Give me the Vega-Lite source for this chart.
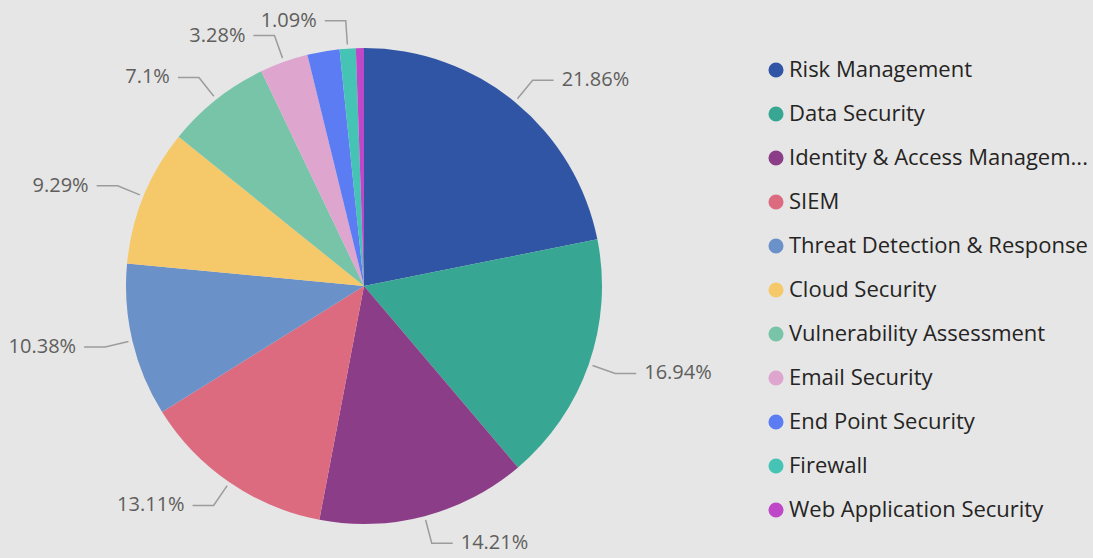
{
  "$schema": "https://vega.github.io/schema/vega-lite/v6.json",
  "width": 600,
  "height": 572,
  "autosize": {"type": "none"},
  "padding": {"left": 64, "top": 0, "right": 429, "bottom": 0},
  "background": "#E6E6E6",
  "config": {"view": {"stroke": null}},
  "data": {
    "values": [
      {"category": "Risk Management", "count": 40},
      {"category": "Data Security", "count": 31},
      {"category": "Identity & Access Management", "count": 26},
      {"category": "SIEM", "count": 24},
      {"category": "Threat Detection & Response", "count": 19},
      {"category": "Cloud Security", "count": 17},
      {"category": "Vulnerability Assessment", "count": 13},
      {"category": "Email Security", "count": 6},
      {"category": "End Point Security", "count": 4},
      {"category": "Firewall", "count": 2},
      {"category": "Web Application Security", "count": 1}
    ]
  },
  "transform": [
    {"joinaggregate": [{"op": "sum", "field": "count", "as": "total"}]},
    {"window": [{"op": "sum", "field": "count", "as": "cum"}], "sort": [{"field": "count", "order": "descending"}], "frame": [null, 0]},
    {"calculate": "(datum.cum - datum.count / 2) / datum.total * 2 * PI", "as": "mid"},
    {"calculate": "datum.mid > PI ? -1 : 1", "as": "side"},
    {"calculate": "format(datum.count / datum.total * 100, '.2~f') + '%'", "as": "label"}
  ],
  "layer": [
    {
      "mark": {"type": "arc", "radius": 238},
      "encoding": {
        "theta": {"field": "count", "type": "quantitative", "stack": true},
        "order": {"field": "count", "type": "quantitative", "sort": "descending"},
        "color": {
          "field": "category",
          "type": "nominal",
          "sort": null,
          "scale": {
            "domain": ["Risk Management", "Data Security", "Identity & Access Management", "SIEM", "Threat Detection & Response", "Cloud Security", "Vulnerability Assessment", "Email Security", "End Point Security", "Firewall", "Web Application Security"],
            "range": ["#3155A5", "#37A794", "#8B3D88", "#DD6B7F", "#6B91C9", "#F5C869", "#77C4A8", "#DEA6CF", "#5B7CF3", "#45C4B6", "#BF48C8"]
          },
          "legend": {
            "orient": "none",
            "legendX": 701,
            "legendY": 59,
            "title": null,
            "symbolType": "circle",
            "symbolSize": 227,
            "symbolOpacity": 1,
            "symbolStrokeWidth": 0,
            "labelFont": "Open Sans",
            "labelFontSize": 22,
            "labelColor": "#252423",
            "labelLimit": 400,
            "labelOffset": 2,
            "rowPadding": 22,
            "labelExpr": "datum.label == 'Identity & Access Management' ? 'Identity & Access Managem...' : datum.label"
          }
        }
      }
    },
    {
      "transform": [
        {"filter": "datum.category != 'End Point Security' && datum.category != 'Web Application Security'"},
        {"calculate": "[0, 1, 2]", "as": "pts"},
        {"flatten": ["pts"]},
        {"calculate": "datum.pts == 0 ? 242 : 266", "as": "r"},
        {"calculate": "datum.r * sin(datum.mid) + (datum.pts == 2 ? datum.side * 21 : 0)", "as": "px"},
        {"calculate": "datum.r * cos(datum.mid)", "as": "py"}
      ],
      "mark": {"type": "line", "stroke": "#9C9C9C", "strokeWidth": 1.5},
      "encoding": {
        "x": {"field": "px", "type": "quantitative", "scale": {"domain": [-300, 300], "nice": false, "zero": false}, "axis": null},
        "y": {"field": "py", "type": "quantitative", "scale": {"domain": [-286, 286], "nice": false, "zero": false}, "axis": null},
        "detail": {"field": "category"},
        "order": {"field": "pts", "type": "quantitative"}
      }
    },
    {
      "transform": [
        {"filter": "datum.category != 'End Point Security' && datum.category != 'Web Application Security' && datum.side == 1"},
        {"calculate": "266 * sin(datum.mid) + 29", "as": "lx"},
        {"calculate": "266 * cos(datum.mid)", "as": "ly"}
      ],
      "mark": {"type": "text", "align": "left", "baseline": "middle", "font": "Open Sans", "fontSize": 20, "color": "#605E5C"},
      "encoding": {
        "x": {"field": "lx", "type": "quantitative", "scale": {"domain": [-300, 300], "nice": false, "zero": false}, "axis": null},
        "y": {"field": "ly", "type": "quantitative", "scale": {"domain": [-286, 286], "nice": false, "zero": false}, "axis": null},
        "text": {"field": "label"}
      }
    },
    {
      "transform": [
        {"filter": "datum.category != 'End Point Security' && datum.category != 'Web Application Security' && datum.side == -1"},
        {"calculate": "266 * sin(datum.mid) - 29", "as": "lx"},
        {"calculate": "266 * cos(datum.mid)", "as": "ly"}
      ],
      "mark": {"type": "text", "align": "right", "baseline": "middle", "font": "Open Sans", "fontSize": 20, "color": "#605E5C"},
      "encoding": {
        "x": {"field": "lx", "type": "quantitative", "scale": {"domain": [-300, 300], "nice": false, "zero": false}, "axis": null},
        "y": {"field": "ly", "type": "quantitative", "scale": {"domain": [-286, 286], "nice": false, "zero": false}, "axis": null},
        "text": {"field": "label"}
      }
    }
  ]
}
